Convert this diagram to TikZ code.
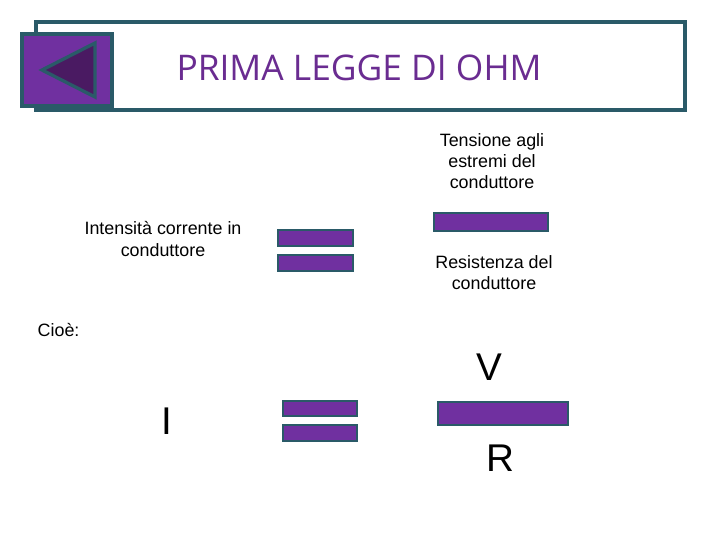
\documentclass[tikz,border=0pt]{standalone}
\usepackage{fontspec}
\setmainfont{Liberation Sans}
\newfontfamily\titlefont{Open Sans}
\definecolor{tealb}{HTML}{2A5A68}
\definecolor{purp}{HTML}{7030A0}
\definecolor{tpurp}{HTML}{6A2C91}
\definecolor{dpurp}{HTML}{4A1A62}
\begin{document}
\begin{tikzpicture}[x=0.75pt,y=-0.75pt,
  bar/.style={draw=tealb,line width=1.8pt,fill=purp},
  lbl/.style={align=center,font=\fontsize{13.4}{15.8}\selectfont},
  big/.style={font=\fontsize{29}{30}\selectfont}]
\useasboundingbox (0,0) rectangle (720,540);
\draw[tealb,line width=3pt,fill=white] (36,22) rectangle (685,110);
\draw[bar,line width=3pt] (22,34) rectangle (112,106);
\draw[draw=tealb,line width=2.5pt,fill=dpurp] (42,70) -- (95,43) -- (95,97) -- cycle;
\node[text=tpurp,font=\titlefont\fontsize{26.5}{28}\selectfont] (title) at (359,68) {PRIMA LEGGE DI OHM};
\node[lbl] (num) at (492,161) {Tensione agli\\estremi del\\conduttore};
\node[lbl] (den) at (494,273) {Resistenza del\\conduttore};
\node[lbl] (lhs) at (163,239) {Intensità corrente in\\conduttore};
\node[lbl,anchor=west] (cioe) at (33,330) {Cioè:};
\draw[bar] (278,230) rectangle (353,246);
\draw[bar] (278,255) rectangle (353,271);
\draw[bar] (434,213) rectangle (548,231);
\draw[bar] (283,401) rectangle (357,416);
\draw[bar] (283,425) rectangle (357,441);
\draw[bar] (438,402) rectangle (568,425);
\node[big] (V) at (489,367) {V};
\node[big] (I) at (167,421) {I};
\node[big] (R) at (500,458) {R};
\end{tikzpicture}
\end{document}
